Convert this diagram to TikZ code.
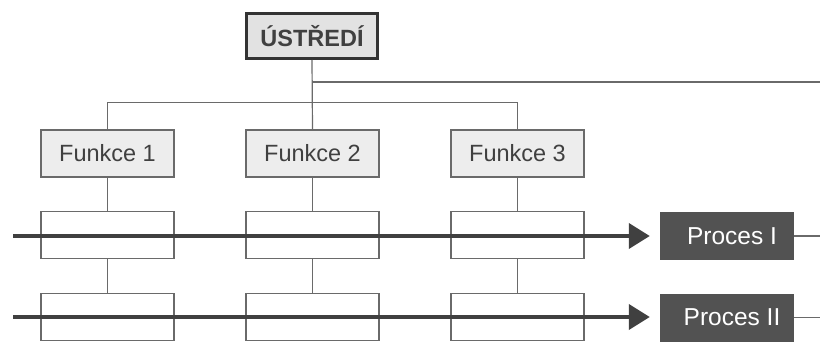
\documentclass[tikz,border=0pt]{standalone}
\usepackage{fontspec}
\setmainfont{Liberation Sans}
\usetikzlibrary{arrows.meta}
\definecolor{fgray}{HTML}{EDEDED}
\definecolor{ugray}{HTML}{E2E2E2}
\definecolor{pgray}{HTML}{525252}
\definecolor{lgray}{HTML}{6A6A6A}
\definecolor{tgray}{HTML}{404040}
\tikzset{
  ubox/.style={draw=black!80, line width=3pt, fill=ugray, minimum width=131pt, minimum height=45pt, inner sep=0pt, font=\fontsize{23.5}{27}\selectfont\bfseries, text=tgray},
  fbox/.style={draw=lgray, line width=1.3pt, fill=fgray, minimum width=133pt, minimum height=47pt, inner sep=0pt, font=\fontsize{23.5}{27}\selectfont, text=tgray},
  wbox/.style={draw=lgray, line width=1.3pt, fill=white, minimum width=133pt, minimum height=46.5pt, inner sep=0pt},
  pbox/.style={fill=pgray, minimum width=134pt, minimum height=48pt, inner sep=0pt, font=\fontsize{24.5}{27}\selectfont, text=white},
  conn/.style={draw=lgray, line width=1.2pt},
  flow/.style={draw=tgray, line width=4pt, -{Triangle[length=21pt,width=25pt]}, shorten >=10pt},
}
\begin{document}
\begin{tikzpicture}[x=1pt,y=-1pt]
\useasboundingbox (0,0) rectangle (820,343);
% nodes
\node[ubox] (u) at (312,36) {ÚSTŘEDÍ};
\node[fbox] (f1) at (107.5,153.5) {Funkce 1};
\node[fbox] (f2) at (312.5,153.5) {Funkce 2};
\node[fbox] (f3) at (517.5,153.5) {Funkce 3};
\coordinate (r0) at (820,82);
\coordinate (r1) at (820,236);
\coordinate (r2) at (820,317.5);
\coordinate (s1) at (13,236);
\coordinate (s2) at (13,317);
% connectors behind boxes
\draw[conn] (u.south) -- (f2.north);
\draw[conn] (u.south |- r0) -- (r0);
\draw[conn] (f1.north) -- ++(0,-27) -| (f3.north);
\node[wbox] (a1) at (107.5,235) {};
\node[wbox] (a2) at (312.5,235) {};
\node[wbox] (a3) at (517.5,235) {};
\node[wbox] (b1) at (107.5,317) {};
\node[wbox] (b2) at (312.5,317) {};
\node[wbox] (b3) at (517.5,317) {};
\draw[conn] (f1) -- (a1); \draw[conn] (a1) -- (b1);
\draw[conn] (f2) -- (a2); \draw[conn] (a2) -- (b2);
\draw[conn] (f3) -- (a3); \draw[conn] (a3) -- (b3);
\node[pbox] (p1) at (727,236) {\hspace*{10pt}Proces I};
\node[pbox] (p2) at (727,317.5) {\hspace*{10pt}Proces II};
\draw[conn] (p1.east) -- (r1);
\draw[conn] (p2.east) -- (r2);
\draw[flow] (s1) -- (p1.west);
\draw[flow] (s2) -- (p2.west |- s2);
\end{tikzpicture}
\end{document}
